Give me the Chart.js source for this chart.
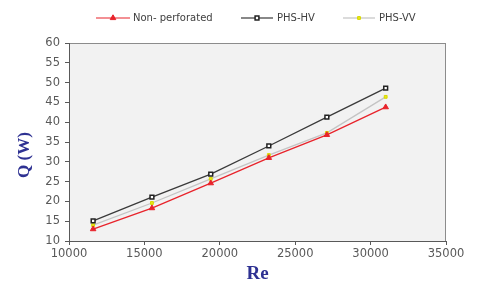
<!DOCTYPE html>
<html>
<head>
<meta charset="utf-8">
<script src="https://cdn.jsdelivr.net/npm/chart.js@4/dist/chart.umd.min.js"></script>
<style>
html,body{margin:0;padding:0;background:#fff;}
#wrap{width:480px;height:287px;position:relative;}
</style>
</head>
<body>
<div id="wrap"><canvas id="c" width="480" height="287"></canvas></div>
<script>
const reynolds = [11600, 15500, 19400, 23250, 27100, 31000];
const nonPerforated = [13.0, 18.3, 24.6, 31.0, 36.8, 43.8];
const phsHV = [15.1, 21.1, 26.9, 34.0, 41.3, 48.6];
const phsVV = [14.0, 19.6, 25.7, 31.7, 37.3, 46.4];
const seriesNames = ['Non- perforated', 'PHS-HV', 'PHS-VV'];
const xTitle = 'Re';
const yTitle = 'Q (W)';

function pts(vals){ return reynolds.map((x,i)=>({x:x, y:vals[i]})); }

const legendPos = [
  {x1:96, x2:130, tx:133},
  {x1:241, x2:273, tx:277},
  {x1:343, x2:375, tx:379}
];

const framePlugin = {
  id:'frame',
  beforeDraw(chart){
    const {ctx, chartArea:a} = chart;
    ctx.save();
    ctx.fillStyle = '#f2f2f2';
    ctx.fillRect(a.left, a.top, a.right-a.left, a.bottom-a.top);
    ctx.strokeStyle = '#8c8c8c';
    ctx.lineWidth = 1;
    ctx.strokeRect(a.left+0.5, a.top+0.5, a.right-a.left-1, a.bottom-a.top);
    ctx.restore();
  },
  afterDraw(chart){
    const ctx = chart.ctx;
    ctx.save();
    chart.data.datasets.forEach((ds,i)=>{
      const p = legendPos[i];
      const y = 18;
      ctx.strokeStyle = ds.borderColor;
      ctx.lineWidth = 1.2;
      ctx.beginPath(); ctx.moveTo(p.x1, y); ctx.lineTo(p.x2, y); ctx.stroke();
      ctx.fillStyle = ds.pointBackgroundColor; ctx.strokeStyle = ds.pointBorderColor;
      ctx.lineWidth = ds.pointBorderWidth;
      Chart.helpers.drawPoint(ctx, {pointStyle: ds.pointStyle, radius: ds.pointRadius, rotation:0, borderWidth: ds.pointBorderWidth}, (p.x1+p.x2)/2, y);
      ctx.fillStyle = '#404040';
      ctx.font = '10px "DejaVu Sans"';
      ctx.textBaseline = 'middle';
      ctx.textAlign = 'left';
      ctx.fillText(ds.label, p.tx, y);
    });
    ctx.fillStyle = '#2e3192';
    ctx.font = 'bold 17px "Liberation Serif"';
    ctx.textAlign = 'center';
    ctx.textBaseline = 'middle';
    ctx.translate(25, 155);
    ctx.rotate(-Math.PI/2);
    ctx.fillText(yTitle, 0, 0);
    ctx.restore();
  }
};

new Chart(document.getElementById('c'), {
  type:'scatter',
  data:{
    datasets:[
      {label:seriesNames[0], data:pts(nonPerforated), showLine:true, borderColor:'#e8232b', borderWidth:1.3,
       pointStyle:'triangle', pointRadius:3.2, pointBackgroundColor:'#e8232b', pointBorderColor:'#e8232b', pointBorderWidth:1},
      {label:seriesNames[1], data:pts(phsHV), showLine:true, borderColor:'#3a3a3a', borderWidth:1.3,
       pointStyle:'rect', pointRadius:2.7, pointBackgroundColor:'#ffffff', pointBorderColor:'#222222', pointBorderWidth:1.5},
      {label:seriesNames[2], data:pts(phsVV), showLine:true, borderColor:'#c4c4c4', borderWidth:1.3,
       pointStyle:'rect', pointRadius:2, pointBackgroundColor:'#e8e81a', pointBorderColor:'#d8d800', pointBorderWidth:1}
    ]
  },
  options:{
    responsive:false, animation:false,
    layout:{padding:{left:0, right:34, top:43, bottom:0}},
    plugins:{legend:{display:false}, tooltip:{enabled:false}},
    scales:{
      x:{type:'linear', min:10000, max:35000,
         ticks:{stepSize:5000, color:'#595959', font:{family:'DejaVu Sans', size:11.5}, padding:2, maxRotation:0,
                callback:(v)=>String(v)},
         grid:{display:true, drawOnChartArea:false, drawTicks:true, tickLength:4, color:'#595959'},
         border:{display:true, color:'#595959'},
         title:{display:true, text:xTitle, color:'#2e3192', font:{family:'Liberation Serif', size:19, weight:'bold'}, padding:{top:0,bottom:2}},
         afterFit(s){ s.height = 46; }
      },
      y:{min:10, max:60,
         ticks:{stepSize:5, color:'#595959', font:{family:'DejaVu Sans', size:11.5}, padding:5},
         grid:{display:true, drawOnChartArea:false, drawTicks:true, tickLength:4, color:'#595959'},
         border:{display:true, color:'#595959'},
         afterFit(s){ s.width = 69; }
      }
    }
  },
  plugins:[framePlugin]
});
</script>
</body>
</html>
